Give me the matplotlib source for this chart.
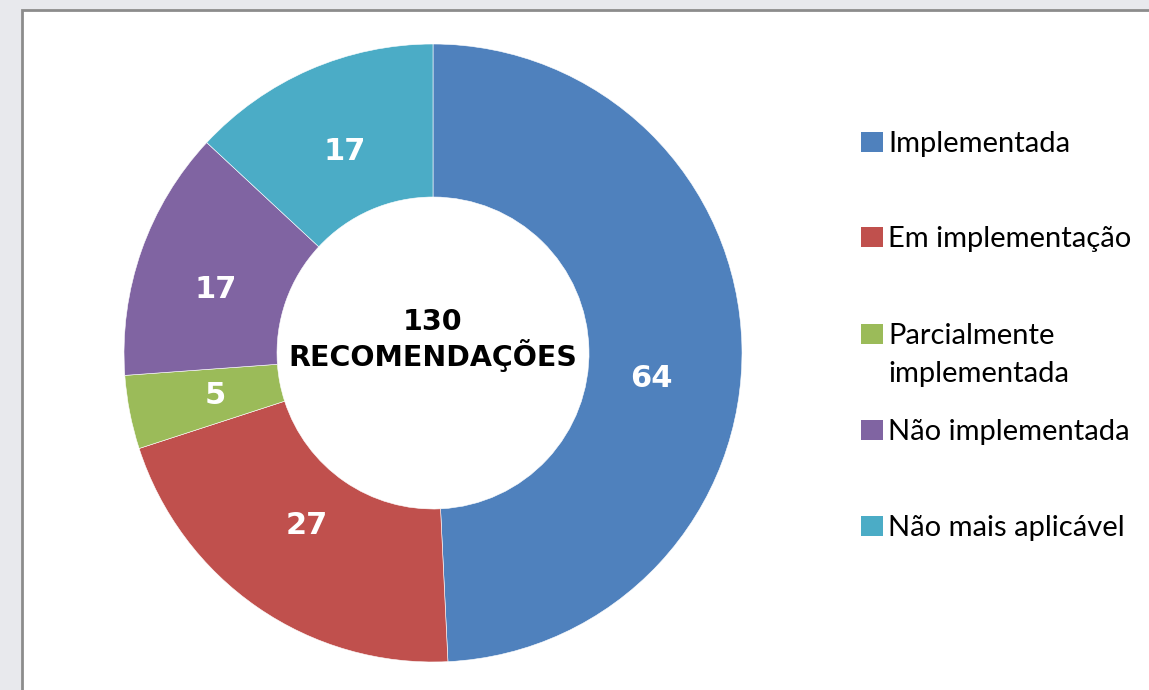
import matplotlib.pyplot as plt
from matplotlib.patches import Rectangle
import numpy as np

# data
categories = ["Implementada", "Em implementação", "Parcialmente\nimplementada",
              "Não implementada", "Não mais aplicável"]
values = [64, 27, 5, 17, 17]
colors = ["#4F81BD", "#C0504D", "#9BBB59", "#8064A2", "#4BACC6"]
center_title = "130\nRECOMENDAÇÕES"

W, H = 1149, 690
fig = plt.figure(figsize=(W / 100, H / 100), dpi=100)
fig.patch.set_facecolor("#e8e9ed")

# pixel-space axes (y measured from the top)
ax = fig.add_axes([0, 0, 1, 1])
ax.set_xlim(0, W)
ax.set_ylim(H, 0)
ax.axis("off")

# white panel with grey frame
ax.add_patch(Rectangle((22, 10), W, H, facecolor="white", edgecolor="#8c8c8c", lw=2))

# donut in its own axes, pixel units with y up
pax = fig.add_axes([0, 0, 1, 1])
cx, cy, R = 433, H - 353, 309
wedges, _ = pax.pie(values, colors=colors, startangle=90, counterclock=False,
                    center=(cx, cy), radius=R, frame=True,
                    wedgeprops=dict(width=R - 156, edgecolor="white", linewidth=0.4))
pax.set_xlim(0, W)
pax.set_ylim(0, H)
pax.axis("off")

# value labels on the ring (the big one sits a bit below its middle)
label_shift = [-8, -1.5, 0, 3, 0]
label_r = [220, 214, 222, 226, 220]
for w, v, s, r in zip(wedges, values, label_shift, label_r):
    ang = np.deg2rad((w.theta1 + w.theta2) / 2 + s)
    pax.text(cx + r * np.cos(ang), cy + r * np.sin(ang), str(v), ha="center", va="center",
             color="white", fontsize=22, fontweight="bold", family="DejaVu Sans")

pax.text(cx, cy + 13, center_title, ha="center", va="center", fontsize=20.5,
         fontweight="bold", family="DejaVu Sans", color="black", linespacing=1.1)

# legend drawn by hand (handle aligned with first line)
baselines = [152, 247, 344, 440, 536]
for lab, col, b in zip(categories, colors, baselines):
    ax.add_patch(Rectangle((861, b - 20), 22, 20, facecolor=col, edgecolor="none"))
    for i, line in enumerate(lab.split("\n")):
        ax.text(888, b + 38 * i, line, ha="left", va="baseline", fontsize=21,
                family="Lato", color="black")

fig.savefig("out.png", dpi=100)
